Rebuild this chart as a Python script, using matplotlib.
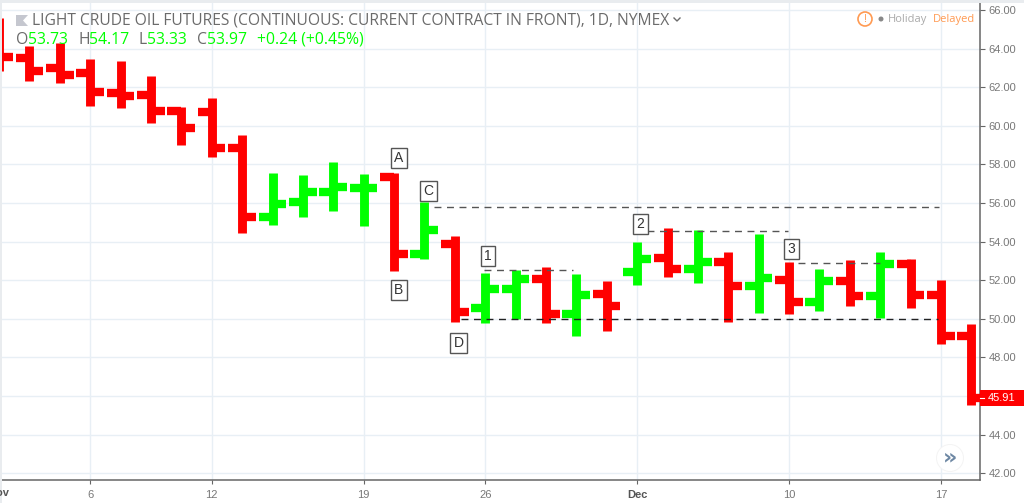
import matplotlib
matplotlib.use('Agg')
import matplotlib.pyplot as plt
from matplotlib.lines import Line2D
from matplotlib.patches import Circle, Polygon, Rectangle

W, H = 1024, 503

# OHLC
opens = [64.00, 63.53, 62.98, 62.72, 61.72, 61.61, 60.77, 60.72, 58.85, 55.27, 56.05,
         56.57, 56.78, 57.36, 53.36, 53.88, 50.58, 51.54, 52.08, 50.26, 51.30, 52.42,
         53.15, 52.58, 52.94, 51.70, 52.01, 50.87, 51.96, 51.18, 52.84, 51.23, 49.12]
highs = [65.59, 64.13, 64.31, 63.48, 63.34, 62.58, 60.97, 61.44, 59.52, 57.55, 57.45,
         58.12, 57.50, 57.57, 56.05, 54.29, 52.39, 52.53, 52.70, 52.32, 51.96, 53.98,
         54.70, 54.60, 53.46, 54.39, 52.94, 52.58, 53.05, 53.46, 53.10, 52.01, 49.73]
lows = [62.84, 62.34, 62.23, 61.03, 60.92, 60.15, 59.01, 58.38, 54.45, 54.86, 55.27,
        55.59, 54.81, 52.49, 53.10, 49.85, 49.80, 49.99, 49.78, 49.11, 49.37, 51.75,
        52.17, 51.85, 49.83, 50.30, 50.25, 50.42, 50.66, 50.04, 50.56, 48.71, 45.53]
closes = [63.56, 62.85, 62.65, 61.77, 61.56, 60.77, 59.89, 58.85, 55.27, 55.95, 56.57,
          56.83, 56.78, 53.37, 54.60, 50.37, 51.56, 52.08, 50.26, 51.23, 50.68, 53.10,
          52.58, 52.94, 51.70, 52.11, 50.87, 51.96, 51.18, 52.84, 51.23, 49.12, 45.91]

tick_bars = [0, 3, 7, 12, 16, 21, 26, 31]
tick_labels = ['Nov', '6', '12', '19', '26', 'Dec', '10', '17']
price_ticks = [42, 44, 46, 48, 50, 52, 54, 56, 58, 60, 62, 64, 66]

# label, bar position, price
notes = [('A', 13.15, 58.33), ('B', 13.15, 51.49), ('C', 14.13, 56.62), ('D', 15.12, 48.75),
         ('1', 16.08, 53.25), ('2', 21.11, 54.91), ('3', 26.08, 53.62)]
# price, from bar, to bar, colour
levels = [(55.79, 14.33, 30.92, '#555555'), (54.55, 21.34, 25.98, '#555555'),
          (52.88, 26.28, 29.0, '#555555'), (52.54, 15.95, 18.9, '#555555'),
          (50.0, 15.2, 30.9, '#222222')]

RED = '#ff0000'
GREEN = '#00ff00'
GREY = '#787878'


def fx(px):
    return px / W


def fy(py):
    return 1 - py / H


fig = plt.figure(figsize=(W / 100, H / 100), dpi=100, facecolor='white')
ax = fig.add_axes([fx(2), fy(480), fx(978), 477 / H])
ax.set_xlim(0.095, 32.285)
ax.set_ylim(41.65, 66.36)
ax.set_facecolor('white')

# page edge
fig.add_artist(Rectangle((0, fy(3)), 1, 3 / H, transform=fig.transFigure, color='#e9ecef', lw=0))
fig.add_artist(Rectangle((0, 0), fx(2), 1, transform=fig.transFigure, color='#e9ecef', lw=0))

# grid
for p in price_ticks:
    ax.axhline(p, color='#e8eff5', lw=1, zorder=1)
for b in tick_bars[1:]:
    ax.axvline(b, color='#e8eff5', lw=1, zorder=1)

# ohlc bars
for i in range(len(closes)):
    c = GREEN if closes[i] >= opens[i] else RED
    ax.vlines(i, lows[i], highs[i], color=c, lw=6.4, zorder=3, capstyle='butt')
    ax.hlines(opens[i], i - 0.46, i, color=c, lw=6.0, zorder=3, capstyle='butt')
    ax.hlines(closes[i], i, i + 0.45, color=c, lw=6.0, zorder=3, capstyle='butt')

# dashed levels
for p, x0, x1, c in levels:
    ax.plot([x0, x1], [p, p], color=c, lw=1.0, ls=(0, (5, 4)), zorder=4)

# boxed labels
for s, x, y in notes:
    ax.text(x, y, s, ha='center', va='center', fontsize=10, color='#333333', family='Liberation Sans',
            zorder=5, bbox=dict(boxstyle='square,pad=0.24', fc='white', ec='#555555', lw=1))

# axes
for s in ['left', 'top']:
    ax.spines[s].set_visible(False)
for s in ['right', 'bottom']:
    ax.spines[s].set_color('#666666')
    ax.spines[s].set_linewidth(1.1)
ax.yaxis.tick_right()
ax.set_yticks(price_ticks)
# 46.00 sits under the last price tag
ax.set_yticklabels(['' if p == 46 else '%.2f' % p for p in price_ticks], fontsize=8, color=GREY,
                   family='Liberation Sans')
ax.tick_params(axis='y', length=3.5, width=0.8, color='#666666', pad=2.5)
ax.set_xticks(tick_bars[1:])
ax.set_xticklabels(tick_labels[1:], fontsize=8, color=GREY, family='Liberation Sans')
ax.tick_params(axis='x', length=3, width=0.8, color='#666666', pad=4)
for lab in ax.get_xticklabels():
    if lab.get_text() == 'Dec':
        lab.set_fontweight('bold')
        lab.set_color('#555555')
fig.text(fx(-0.9), fy(493), 'Nov', ha='center', va='center', fontsize=8, fontweight='bold',
         color='#555555', family='Liberation Sans')

# last price tag
fig.add_artist(Rectangle((fx(980), fy(406)), 44 / W, 16 / H, transform=fig.transFigure, color=RED, lw=0, zorder=6))
fig.add_artist(Line2D([fx(980), fx(984)], [fy(398), fy(398)], color='white', lw=0.8, zorder=7))
fig.text(fx(988), fy(398), '45.91', ha='left', va='center', fontsize=8, color='white',
         family='Liberation Sans', zorder=7)

# header
fig.add_artist(Polygon([(fx(16), fy(15)), (fx(28), fy(15)), (fx(23), fy(20.5)), (fx(28), fy(26)), (fx(16), fy(26))],
                       closed=True, transform=fig.transFigure, color='#c5c7cf', lw=0))
fig.text(fx(32), fy(20.5), 'LIGHT CRUDE OIL FUTURES (CONTINUOUS: CURRENT CONTRACT IN FRONT), 1D, NYMEX',
         ha='left', va='center', fontsize=11.25, color='#6b6b6b', family='Open Sans')
fig.add_artist(Line2D([fx(674), fx(677), fx(680)], [fy(18), fy(21), fy(18)], color='#6b6b6b', lw=1))

legend = [('O', 16, '#6b6b6b'), ('53.73', 28, GREEN), ('H', 78, '#6b6b6b'), ('54.17', 89, GREEN),
          ('L', 139, '#6b6b6b'), ('53.33', 147, GREEN), ('C', 197, '#6b6b6b'), ('53.97', 207, GREEN),
          ('+0.24 (+0.45%)', 257, GREEN)]
for s, x, c in legend:
    fig.text(fx(x), fy(40), s, ha='left', va='center', fontsize=11.3, color=c, family='Open Sans')

# status
ov = fig.add_axes([0, 0, 1, 1], facecolor='none')
ov.set_xlim(0, W)
ov.set_ylim(H, 0)
ov.axis('off')
ov.add_patch(Circle((865, 19), 7, fc='white', ec='#ff9a52', lw=1.2))
ov.text(865, 19, '!', ha='center', va='center', fontsize=8, color='#ff9a52', family='Open Sans')
ov.add_patch(Circle((881, 19), 2.5, fc='#888888', ec='none'))
ov.text(888, 19, 'Holiday', ha='left', va='center', fontsize=8, color='#aaaaaa', family='Open Sans')
ov.text(933, 19, 'Delayed', ha='left', va='center', fontsize=8, color='#ff9a52', family='Open Sans')

# scroll button
ov.add_patch(Circle((950, 458), 14, fc='#f4f4f4', ec='none'))
ov.add_patch(Circle((950, 458), 13, fc='white', ec='none'))
ov.text(950, 457, '\u00bb', ha='center', va='center', fontsize=16, fontweight='bold', color='#6d87a3',
        family='DejaVu Sans')

fig.savefig('out.png', dpi=100)
